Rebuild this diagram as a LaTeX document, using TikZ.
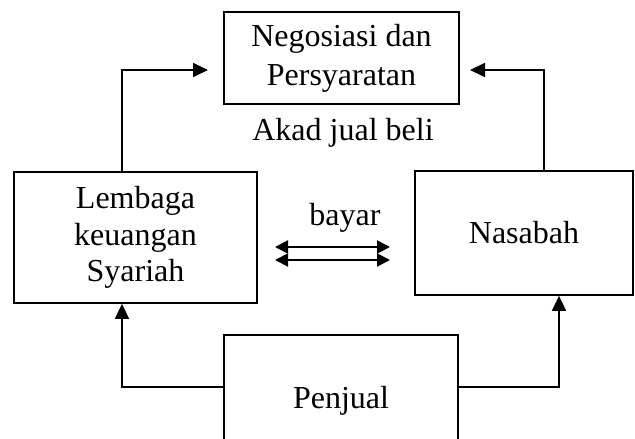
\documentclass[tikz,border=0pt]{standalone}
\usepackage{fontspec}
\setmainfont{Liberation Serif}
\usetikzlibrary{arrows.meta}
\begin{document}
\begin{tikzpicture}[x=1pt,y=-1pt,line width=1.7pt,
  box/.style={draw,line width=1.7pt,inner sep=0pt,align=center},
  lbl/.style={inner sep=0pt},
  arr/.style={-{Triangle[length=15pt,width=14pt]}},
  darr/.style={line width=2pt,{Triangle[length=13pt,width=13pt]}-{Triangle[length=13pt,width=13pt]}}]
\useasboundingbox (0,0) rectangle (635,439);
\node[box,minimum width=235pt,minimum height=92pt,font=\fontsize{32}{39}\selectfont] (neg) at (341.5,58) {Negosiasi dan\\Persyaratan};
\node[box,minimum width=243pt,minimum height=131pt,font=\fontsize{32}{36.5}\selectfont] (lem) at (135.5,237.5) {Lembaga\\keuangan\\Syariah};
\node[box,minimum width=218pt,minimum height=124pt,font=\fontsize{32}{37}\selectfont] (nas) at (524,233) {Nasabah};
\node[box,minimum width=234pt,minimum height=132pt,font=\fontsize{32}{37}\selectfont] (pen) at (341,401) {Penjual};
\node[lbl,font=\fontsize{32}{37}\selectfont] (akad) at (343,133) {Akad jual beli};
\node[lbl,font=\fontsize{32}{37}\selectfont] (bayar) at (345,218) {bayar};
\coordinate (c1) at (122,70);
\coordinate (t1) at (208,70);
\coordinate (c2) at (544,70);
\coordinate (t2) at (470,70);
\coordinate (c3) at (122,387);
\coordinate (c4) at (559,387);
\coordinate (d1) at (275,247);
\coordinate (d2) at (390,247);
\coordinate (d3) at (275,260);
\coordinate (d4) at (390,260);
\draw[arr] (lem.north -| c1) |- (t1);
\draw[arr] (nas.north -| c2) |- (t2);
\draw[arr] (c3 -| pen.west) -| (lem.south -| c3);
\draw[arr] (c4 -| pen.east) -| (nas.south -| c4);
\draw[darr] (d1) -- (d2);
\draw[darr] (d3) -- (d4);
\end{tikzpicture}
\end{document}
